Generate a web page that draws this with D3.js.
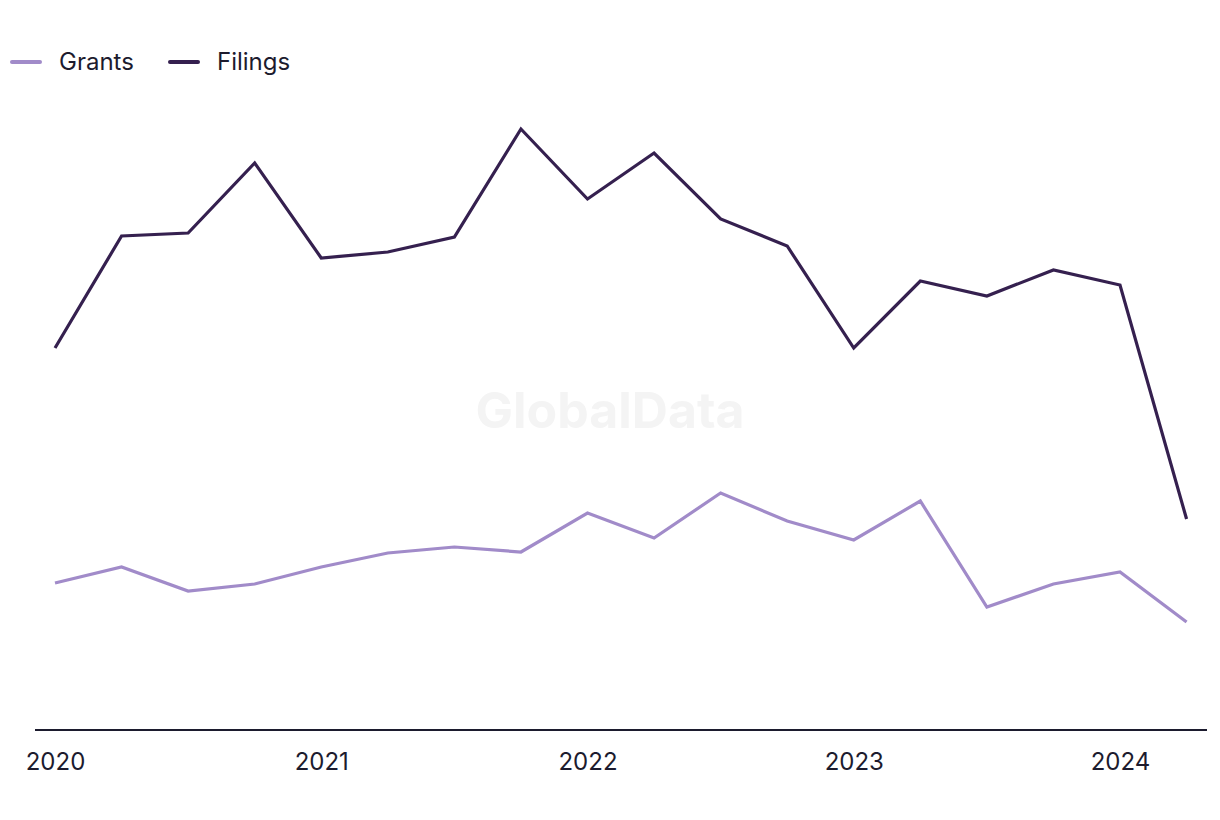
<!DOCTYPE html>
<html>
<head>
<meta charset="utf-8">
<script src="https://cdn.jsdelivr.net/npm/d3@7"></script>
<style>
  html, body { margin: 0; padding: 0; background: #ffffff; }
  svg { display: block; font-family: Inter, "Noto Sans", sans-serif; }
</style>
</head>
<body>
<svg id="chart" width="1220" height="820"></svg>
<script>
// Data (quarterly, 2020 Q1 – 2024 Q2), arbitrary units
const quarters = ["2020Q1","2020Q2","2020Q3","2020Q4","2021Q1","2021Q2","2021Q3","2021Q4",
                  "2022Q1","2022Q2","2022Q3","2022Q4","2023Q1","2023Q2","2023Q3","2023Q4",
                  "2024Q1","2024Q2"];
const filings = [382, 494, 497, 567, 472, 478, 493, 601, 531, 577, 511, 484, 382, 449, 434, 460, 445, 211];
const grants  = [147, 163, 139, 146, 163, 177, 183, 178, 217, 192, 237, 209, 190, 229, 123, 146, 158, 108];
const tickLabels = ["2020", "2021", "2022", "2023", "2024"];
const tickQuarters = ["2020Q1", "2021Q1", "2022Q1", "2023Q1", "2024Q1"];
const seriesNames = ["Grants", "Filings"];

const colors = { Grants: "#a18bc9", Filings: "#35204f" };
const textColor = "#1c1b2e";

const svg = d3.select("#chart");

const x = d3.scaleLinear().domain([0, 16]).range([55, 1120]);
const y = d3.scaleLinear().domain([0, 601]).range([730, 129]);

// watermark
svg.append("text")
  .attr("x", 610).attr("y", 428)
  .attr("text-anchor", "middle")
  .attr("font-family", "Inter, 'Liberation Sans', sans-serif")
  .attr("font-weight", 700)
  .attr("font-size", 50)
  .attr("fill", "#f4f4f4")
  .text("GlobalData");

// baseline
svg.append("line")
  .attr("x1", 35).attr("x2", 1207)
  .attr("y1", y(0)).attr("y2", y(0))
  .attr("stroke", textColor).attr("stroke-width", 2);

// x axis labels
const xAxis = d3.axisBottom(x)
  .tickValues(tickQuarters.map(q => quarters.indexOf(q)))
  .tickFormat((d, i) => tickLabels[i])
  .tickSize(0)
  .tickPadding(23);
const ax = svg.append("g").attr("transform", `translate(0,${y(0)})`).call(xAxis);
ax.select(".domain").remove();
ax.selectAll("text")
  .attr("font-family", "Inter, 'Noto Sans', sans-serif")
  .attr("font-size", 24)
  .attr("fill", textColor);

// lines
const line = d3.line().x((d, i) => x(i)).y(d => y(d));
const seriesData = { Grants: grants, Filings: filings };
seriesNames.forEach(name => {
  svg.append("path")
    .datum(seriesData[name])
    .attr("fill", "none")
    .attr("stroke", colors[name])
    .attr("stroke-width", 3.2)
    .attr("stroke-linejoin", "miter")
    .attr("d", line);
});

// legend
const legendX = [10, 168];
seriesNames.forEach((name, i) => {
  const g = svg.append("g").attr("transform", `translate(${legendX[i]},62)`);
  g.append("line")
    .attr("x1", 2).attr("x2", 30)
    .attr("y1", 0).attr("y2", 0)
    .attr("stroke", colors[name])
    .attr("stroke-width", 4)
    .attr("stroke-linecap", "round");
  g.append("text")
    .attr("x", 49).attr("y", 8)
    .attr("font-size", 24)
    .attr("fill", textColor)
    .text(name);
});
</script>
</body>
</html>
